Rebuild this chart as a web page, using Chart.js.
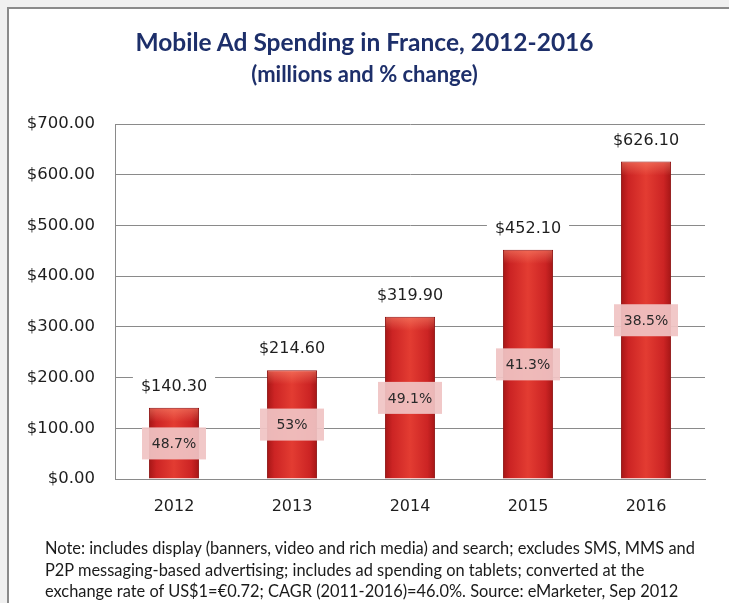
<!DOCTYPE html>
<html>
<head>
<meta charset="utf-8">
<script src="https://cdn.jsdelivr.net/npm/chart.js@4"></script>
<style>
  html, body { margin:0; padding:0; background:#f0f0f0; }
  #frame { position:absolute; left:7px; top:7px; width:740px; height:620px; background:#fff; border:2px solid #8a8a8a; box-sizing:border-box; }
  #wrap { position:absolute; left:0; top:0; width:729px; height:603px; }
  canvas { position:absolute; left:0; top:0; }
  .t { position:absolute; left:0; width:729px; text-align:center; color:#1d2f6a; font-family:Lato, sans-serif; font-weight:bold; }
  #title { top:27px; font-size:24.5px; }
  #sub { top:60px; font-size:22px; }
  #note { position:absolute; left:45px; top:537px; font-family:Lato, sans-serif; font-size:16.4px; line-height:21.5px; color:#1a1a1a; white-space:nowrap; }
</style>
</head>
<body>
<div id="frame"></div>
<div id="wrap">
  <canvas id="c" width="729" height="603"></canvas>
  <div class="t" id="title">Mobile Ad Spending in France, 2012-2016</div>
  <div class="t" id="sub">(millions and % change)</div>
  <div id="note">Note: includes display (banners, video and rich media) and search; excludes SMS, MMS and<br>P2P messaging-based advertising; includes ad spending on tablets; converted at the<br>exchange rate of US$1=€0.72; CAGR (2011-2016)=46.0%. Source: eMarketer, Sep 2012</div>
</div>
<script>
const categories = ["2012", "2013", "2014", "2015", "2016"];
const spending = [140.30, 214.60, 319.90, 452.10, 626.10];
const pctChange = ["48.7%", "53%", "49.1%", "41.3%", "38.5%"];
const yTicks = [0, 100, 200, 300, 400, 500, 600, 700];

const money = v => "$" + Number(v).toFixed(2);

const barStyle = {
  id: "barStyle",
  beforeDatasetsDraw(chart) {
    const ctx = chart.ctx;
    chart.getDatasetMeta(0).data.forEach(el => {
      const l = el.x - el.width / 2, r = el.x + el.width / 2;
      const g = ctx.createLinearGradient(l, 0, r, 0);
      g.addColorStop(0, "#a51616");
      g.addColorStop(0.15, "#cc2424");
      g.addColorStop(0.5, "#e33c32");
      g.addColorStop(0.85, "#cc2424");
      g.addColorStop(1, "#a51616");
      el.options = Object.assign({}, el.options, { backgroundColor: g });
    });
  },
  afterDatasetsDraw(chart) {
    const ctx = chart.ctx;
    const ys = chart.scales.y;
    chart.getDatasetMeta(0).data.forEach(el => {
      const l = el.x - el.width / 2 + 1, w = el.width - 2;
      const g = ctx.createLinearGradient(0, el.y, 0, el.y + 14);
      g.addColorStop(0, "rgba(255,150,120,0.5)");
      g.addColorStop(1, "rgba(255,150,120,0)");
      ctx.fillStyle = g;
      ctx.fillRect(l, el.y + 1, w, 14);
    });
    ctx.save();
    ctx.textAlign = "center";
    ctx.textBaseline = "middle";
    chart.getDatasetMeta(0).data.forEach((el, i) => {
      const v = spending[i];
      ctx.font = "16px 'DejaVu Sans'";
      const txt = money(v);
      const tw = ctx.measureText(txt).width;
      const cy = el.y - 21;
      ctx.fillStyle = "#ffffff";
      ctx.fillRect(el.x - tw / 2 - 8, cy - 12, tw + 16, 24);
      ctx.fillStyle = "#1e1e1e";
      ctx.fillText(txt, el.x, cy);
      const my = (el.y + ys.getPixelForValue(0)) / 2;
      ctx.fillStyle = "rgba(240,196,196,0.93)";
      ctx.fillRect(el.x - 32, my - 16, 64, 32);
      ctx.font = "14px 'DejaVu Sans'";
      ctx.fillStyle = "#2a2a2a";
      ctx.fillText(pctChange[i], el.x, my + 1);
    });
    ctx.restore();
  }
};

new Chart(document.getElementById("c"), {
  type: "bar",
  data: {
    labels: categories,
    datasets: [{
      data: spending,
      backgroundColor: (c) => "#d02828",
      borderColor: "#8e1414",
      borderWidth: 1,
      barPercentage: 0.85,
      categoryPercentage: 0.5
    }]
  },
  options: {
    responsive: false,
    animation: false,
    devicePixelRatio: 1,
    layout: { padding: { top: 124, right: 24, left: 0, bottom: 84 } },
    plugins: { legend: { display: false }, tooltip: { enabled: false } },
    scales: {
      x: {
        grid: { display: false, drawTicks: false },
        border: { display: true, color: "#8a8a8a", width: 1 },
        ticks: { color: "#1e1e1e", font: { family: "DejaVu Sans", size: 16 }, padding: 18 },
        afterFit(s) { s.height = 40; }
      },
      y: {
        min: 0, max: 700,
        afterBuildTicks(s) { s.ticks = yTicks.map(v => ({ value: v })); },
        grid: { color: "#8a8a8a", lineWidth: 1, drawTicks: false },
        border: { display: true, color: "#8a8a8a", width: 1 },
        ticks: { color: "#1e1e1e", font: { family: "DejaVu Sans", size: 16.5 }, padding: 20, callback: v => money(v) },
        afterFit(s) { s.width = 115; }
      }
    }
  },
  plugins: [barStyle]
});
</script>
</body>
</html>
